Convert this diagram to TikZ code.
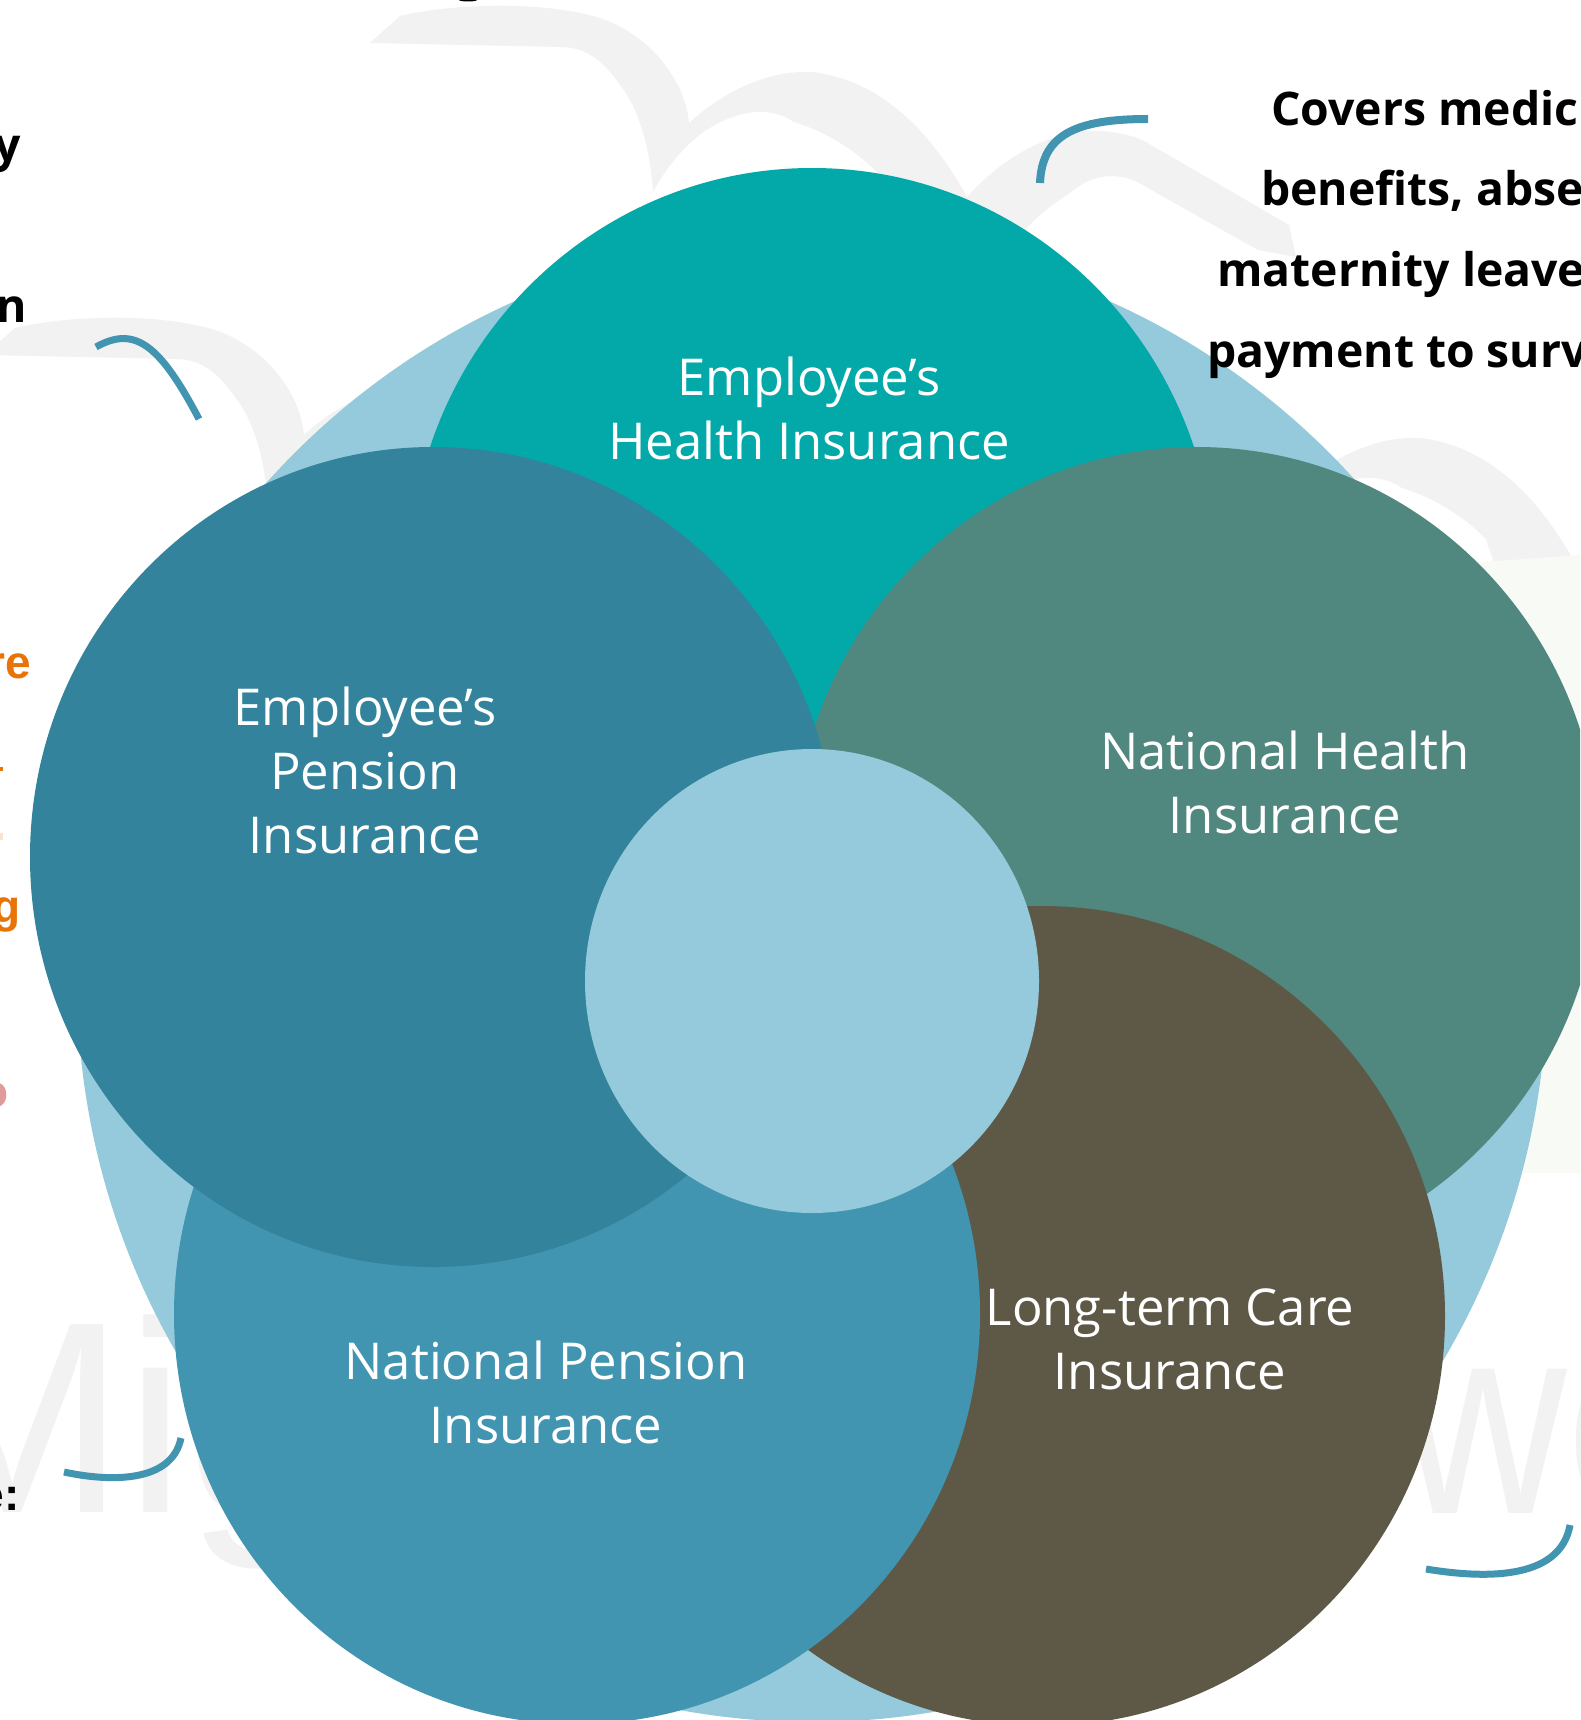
\documentclass[tikz,border=0pt]{standalone}
\usepackage{fontspec}
\setmainfont{Open Sans}
\newfontfamily\notefont{Open Sans}
\newfontfamily\arialfont{Liberation Sans}
\definecolor{tealc}{HTML}{03A9A9}
\definecolor{pensionc}{HTML}{32839B}
\definecolor{healthc}{HTML}{508880}
\definecolor{carec}{HTML}{5E5847}
\definecolor{natpenc}{HTML}{4295B1}
\definecolor{palec}{HTML}{94CADB}
\definecolor{wmc}{HTML}{F2F2F2}
\definecolor{tintc}{HTML}{F8FAF5}
\definecolor{orangec}{HTML}{E87306}
\definecolor{pinkc}{HTML}{E09A9A}
\tikzset{
  petal/.style={x radius=403,y radius=410},
  label/.style={text=white,align=center,font=\fontsize{50.8}{64}\selectfont},
  note/.style={anchor=base west,inner sep=0pt,text=black,font=\notefont\bfseries\fontsize{46.3}{47}\selectfont},
  frag/.style={anchor=base east,inner sep=0pt,font=\arialfont\bfseries\fontsize{46}{47}\selectfont},
  wmtext/.style={inner sep=0pt,text=wmc,font=\arialfont\fontsize{273}{273}\selectfont},
  tick/.style={draw=natpenc,line width=7pt,line cap=butt}
}
\newcommand{\birdshape}{
  (370,43) -- (400,16) .. controls (450,4) and (540,0) .. (600,18)
  .. controls (650,35) and (685,80) .. (689,123)
  .. controls (725,90) and (770,70) .. (812,72)
  .. controls (880,80) and (930,130) .. (967,197)
  .. controls (1000,160) and (1050,128) .. (1102,131)
  .. controls (1125,133) and (1140,138) .. (1151,145)
  -- (1289,225) -- (1296,257) -- (1258,250)
  -- (1146,187) .. controls (1125,172) and (1095,172) .. (1074,190)
  .. controls (1055,203) and (1035,215) .. (1018,240) -- (900,240)
  -- (878,173) .. controls (850,145) and (820,130) .. (794,122)
  .. controls (770,105) and (735,110) .. (702,133)
  .. controls (680,150) and (665,170) .. (653,192)
  .. controls (650,150) and (640,110) .. (620,85)
  .. controls (600,55) and (580,47) .. (561,47) -- cycle
}
\begin{document}
\begin{tikzpicture}[x=1pt,y=-1pt]
\useasboundingbox (0,0) rectangle (1580,1720);
\clip (0,0) rectangle (1580,1720);
\fill[white] (0,0) rectangle (1580,1720);
% watermark
\fill[wmc] \birdshape;
\begin{scope}[shift={(-385,312)}]\fill[wmc] \birdshape;\end{scope}
\begin{scope}[shift={(608,366)}]\fill[wmc] \birdshape;\end{scope}
\fill[tintc] (1400,568) -- (1580,555) -- (1580,1173) -- (1400,1173) -- cycle;
\node[wmtext,anchor=base west] (wmleft) at (-102,1512) {Mig};
\node[wmtext,anchor=base west,xscale=0.85,transform shape] (wmright) at (1399,1513) {we};
% fragments of cropped text
\node[frag,font=\notefont\bfseries\fontsize{46.3}{47}\selectfont] (f1) at (21,162) {y};
\node[frag,font=\notefont\bfseries\fontsize{46.3}{47}\selectfont] (f2) at (27,322) {n};
\node[frag,text=orangec] (f3) at (31,678) {re};
\node[frag,text=orangec] (f4) at (21,922) {g};
\node[frag,text=pinkc] (f5) at (9,1107) {o};
\node[frag] (f6) at (20,1510) {e:};
\fill[orangec] (0,767) rectangle (3,771);
\fill[orangec!20] (0,833) rectangle (3,840);
\fill[black] (468,0) ellipse [x radius=9,y radius=1.5];
% discs
\fill[palec] (812,980) ellipse [x radius=735,y radius=742];
\fill[tealc,petal] (812,578) ellipse [];
\fill[healthc,petal] (1197,857) ellipse [];
\fill[carec,petal] (1042,1316) ellipse [];
\fill[natpenc,petal] (577,1314) ellipse [];
\fill[pensionc,petal] (433,857) ellipse [];
\fill[palec] (812,981) ellipse [x radius=227,y radius=232];
% note text lies over the discs
\node[note] (n1) at (1271,126) {Covers medic};
\node[note] (n2) at (1261,206) {benefits, abse};
\node[note] (n3) at (1217,286) {maternity leave};
\node[note] (n4) at (1207,367) {payment to surv};
% labels
\node[label] (lhealthE) at (809,408) {Employee’s\\Health Insurance};
\node[label] (lpensionE) at (365,770) {Employee’s\\Pension\\Insurance};
\node[label] (lhealthN) at (1285,782) {National Health\\Insurance};
\node[label] (lpensionN) at (546,1392) {National Pension\\Insurance};
\node[label] (lcare) at (1170,1339) {Long-term Care\\Insurance};
% curved ticks
\coordinate (t1a) at (1148,119); \coordinate (t1b) at (1040,183);
\coordinate (t2a) at (96,347);  \coordinate (t2b) at (199,419);
\coordinate (t3a) at (64,1472); \coordinate (t3b) at (181,1438);
\coordinate (t4a) at (1426,1569); \coordinate (t4b) at (1570,1525);
\draw[tick,line width=8pt] (t1a) .. controls (1075,119) and (1042,135) .. (t1b);
\draw[tick] (t2a) .. controls (135,325) and (160,345) .. (t2b);
\draw[tick] (t3a) .. controls (110,1482) and (172,1483) .. (t3b);
\draw[tick] (t4a) .. controls (1480,1578) and (1560,1582) .. (t4b);
\end{tikzpicture}
\end{document}
